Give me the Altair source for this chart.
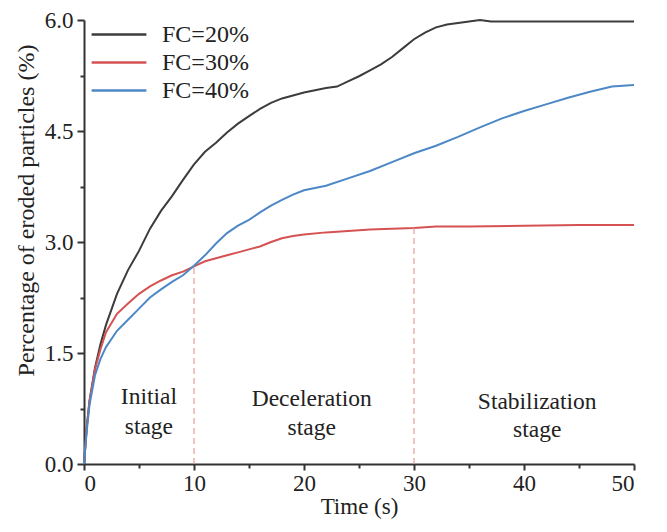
import altair as alt
import pandas as pd

# ---- data ----
t20 = [0, 0.25, 0.5, 1, 1.5, 2, 3, 4, 5, 6, 7, 8, 9, 10, 11, 12, 13, 14, 15, 16, 17, 18, 19, 20,
       21, 22, 23, 24, 25, 26, 27, 28, 29, 30, 31, 32, 33, 34, 35, 36, 37, 40, 45, 50]
fc20 = [0, 0.5, 0.85, 1.3, 1.62, 1.88, 2.3, 2.62, 2.88, 3.18, 3.42, 3.62, 3.84, 4.05, 4.22, 4.34,
        4.48, 4.6, 4.7, 4.8, 4.88, 4.94, 4.98, 5.02, 5.05, 5.08, 5.1, 5.17, 5.24, 5.32, 5.4, 5.5,
        5.62, 5.74, 5.83, 5.9, 5.94, 5.96, 5.98, 6.0, 5.98, 5.98, 5.98, 5.98]

t30 = [0, 0.25, 0.5, 1, 1.5, 2, 3, 4, 5, 6, 7, 8, 9, 10, 11, 12, 13, 14, 15, 16, 17, 18, 19, 20,
       22, 24, 26, 28, 30, 32, 35, 40, 45, 50]
fc30 = [0, 0.5, 0.85, 1.28, 1.55, 1.78, 2.03, 2.17, 2.3, 2.4, 2.48, 2.55, 2.6, 2.67, 2.74, 2.78,
        2.82, 2.86, 2.9, 2.94, 3.0, 3.05, 3.08, 3.1, 3.13, 3.15, 3.17, 3.18, 3.19, 3.21, 3.21,
        3.22, 3.23, 3.23]

t40 = [0, 0.25, 0.5, 1, 1.5, 2, 3, 4, 5, 6, 7, 8, 9, 10, 11, 12, 13, 14, 15, 16, 17, 18, 19, 20,
       22, 24, 26, 28, 30, 32, 34, 36, 38, 40, 42, 44, 46, 48, 50]
fc40 = [0, 0.45, 0.8, 1.2, 1.42, 1.58, 1.8, 1.95, 2.1, 2.25, 2.36, 2.46, 2.55, 2.68, 2.82, 2.98,
        3.12, 3.22, 3.3, 3.4, 3.49, 3.57, 3.64, 3.7, 3.76, 3.86, 3.96, 4.08, 4.2, 4.3, 4.42, 4.55,
        4.67, 4.77, 4.86, 4.95, 5.03, 5.1, 5.12]

series_names = ["FC=20%", "FC=30%", "FC=40%"]
series_colors = ["#3c3c3c", "#d65252", "#4d88c6"]

stage_x = [10, 30]
stage_top = [2.68, 3.19]

label_x = [5.9, 5.9, 20.7, 20.7, 41.2, 41.2]
label_y = [0.9, 0.5, 0.88, 0.49, 0.84, 0.46]
label_text = ["Initial", "stage", "Deceleration", "stage", "Stabilization", "stage"]

x_major = [0, 10, 20, 30, 40, 50]
x_minor = [5, 15, 25, 35, 45]
y_major = [0, 1.5, 3.0, 4.5, 6.0]
y_minor = [0.75, 2.25, 3.75, 5.25]

# ---- tables ----
rows = []
for name, ts, vs in zip(series_names, [t20, t30, t40], [fc20, fc30, fc40]):
    for t, v in zip(ts, vs):
        rows.append({"series": name, "time": t, "value": v})
df = pd.DataFrame(rows)
df_rule = pd.DataFrame({"x": stage_x, "y0": [0, 0], "top": stage_top})
df_text = pd.DataFrame({"x": label_x, "y": label_y, "text": label_text})

FONT = "Liberation Serif"
xscale = alt.Scale(domain=[0, 50], nice=False, zero=False)
yscale = alt.Scale(domain=[0, 6], nice=False)

x_axis = alt.Axis(values=x_major, title="Time (s)", format="d", orient="bottom",
                  titleFontSize=23, titlePadding=0, labelPadding=2, tickSize=6)
y_axis = alt.Axis(values=y_major, title="Percentage of eroded particles (%)",
                  format=".1f", orient="left", titleFontSize=24, titleY=190)

lines = alt.Chart(df).mark_line(strokeWidth=2).encode(
    x=alt.X("time:Q", scale=xscale, axis=x_axis),
    y=alt.Y("value:Q", scale=yscale, axis=y_axis),
    color=alt.Color("series:N",
                    scale=alt.Scale(domain=series_names, range=series_colors),
                    legend=alt.Legend(title=None, orient="none", legendX=6, legendY=2,
                                      symbolType="stroke", symbolSize=3000,
                                      symbolStrokeWidth=2.5, clipHeight=25, rowPadding=3,
                                      labelFont=FONT, labelFontSize=24, labelColor="#222",
                                      labelOffset=14, padding=0)),
    order=alt.Order("time:Q"),
)

texts = alt.Chart(df_text).mark_text(font=FONT, fontSize=23.5, color="#222").encode(
    x=alt.X("x:Q", scale=xscale, axis=x_axis),
    y=alt.Y("y:Q", scale=yscale, axis=y_axis),
    text="text:N",
)

rules = alt.Chart(df_rule).mark_rule(color="#e89a9a", strokeDash=[6, 4], strokeWidth=1.2).encode(
    x=alt.X("x:Q", scale=xscale,
            axis=alt.Axis(values=x_minor, labels=False, domain=False, tickSize=4,
                          title=None, orient="bottom")),
    y=alt.Y("y0:Q", scale=yscale,
            axis=alt.Axis(values=y_minor, labels=False, domain=False, tickSize=4,
                          title=None, orient="left")),
    y2="top:Q",
)

chart = alt.layer(alt.layer(lines, texts), rules).resolve_scale(
    x="independent", y="independent"
).properties(
    width=550, height=444,
    autosize=alt.AutoSizeParams(type="none"),
    padding={"left": 76, "top": 12, "right": 25, "bottom": 60},
).configure_view(stroke=None).configure_axis(
    grid=False, domainColor="#333", domainWidth=2, tickColor="#333", tickWidth=2,
    tickSize=7, labelFont=FONT, labelFontSize=23, labelColor="#222",
    titleFont=FONT, titleColor="#222", titleFontWeight="normal",
    labelPadding=4,
).configure_axisY(titlePadding=6)

chart.save("out.html", embed_options={"renderer": "svg", "actions": False})
